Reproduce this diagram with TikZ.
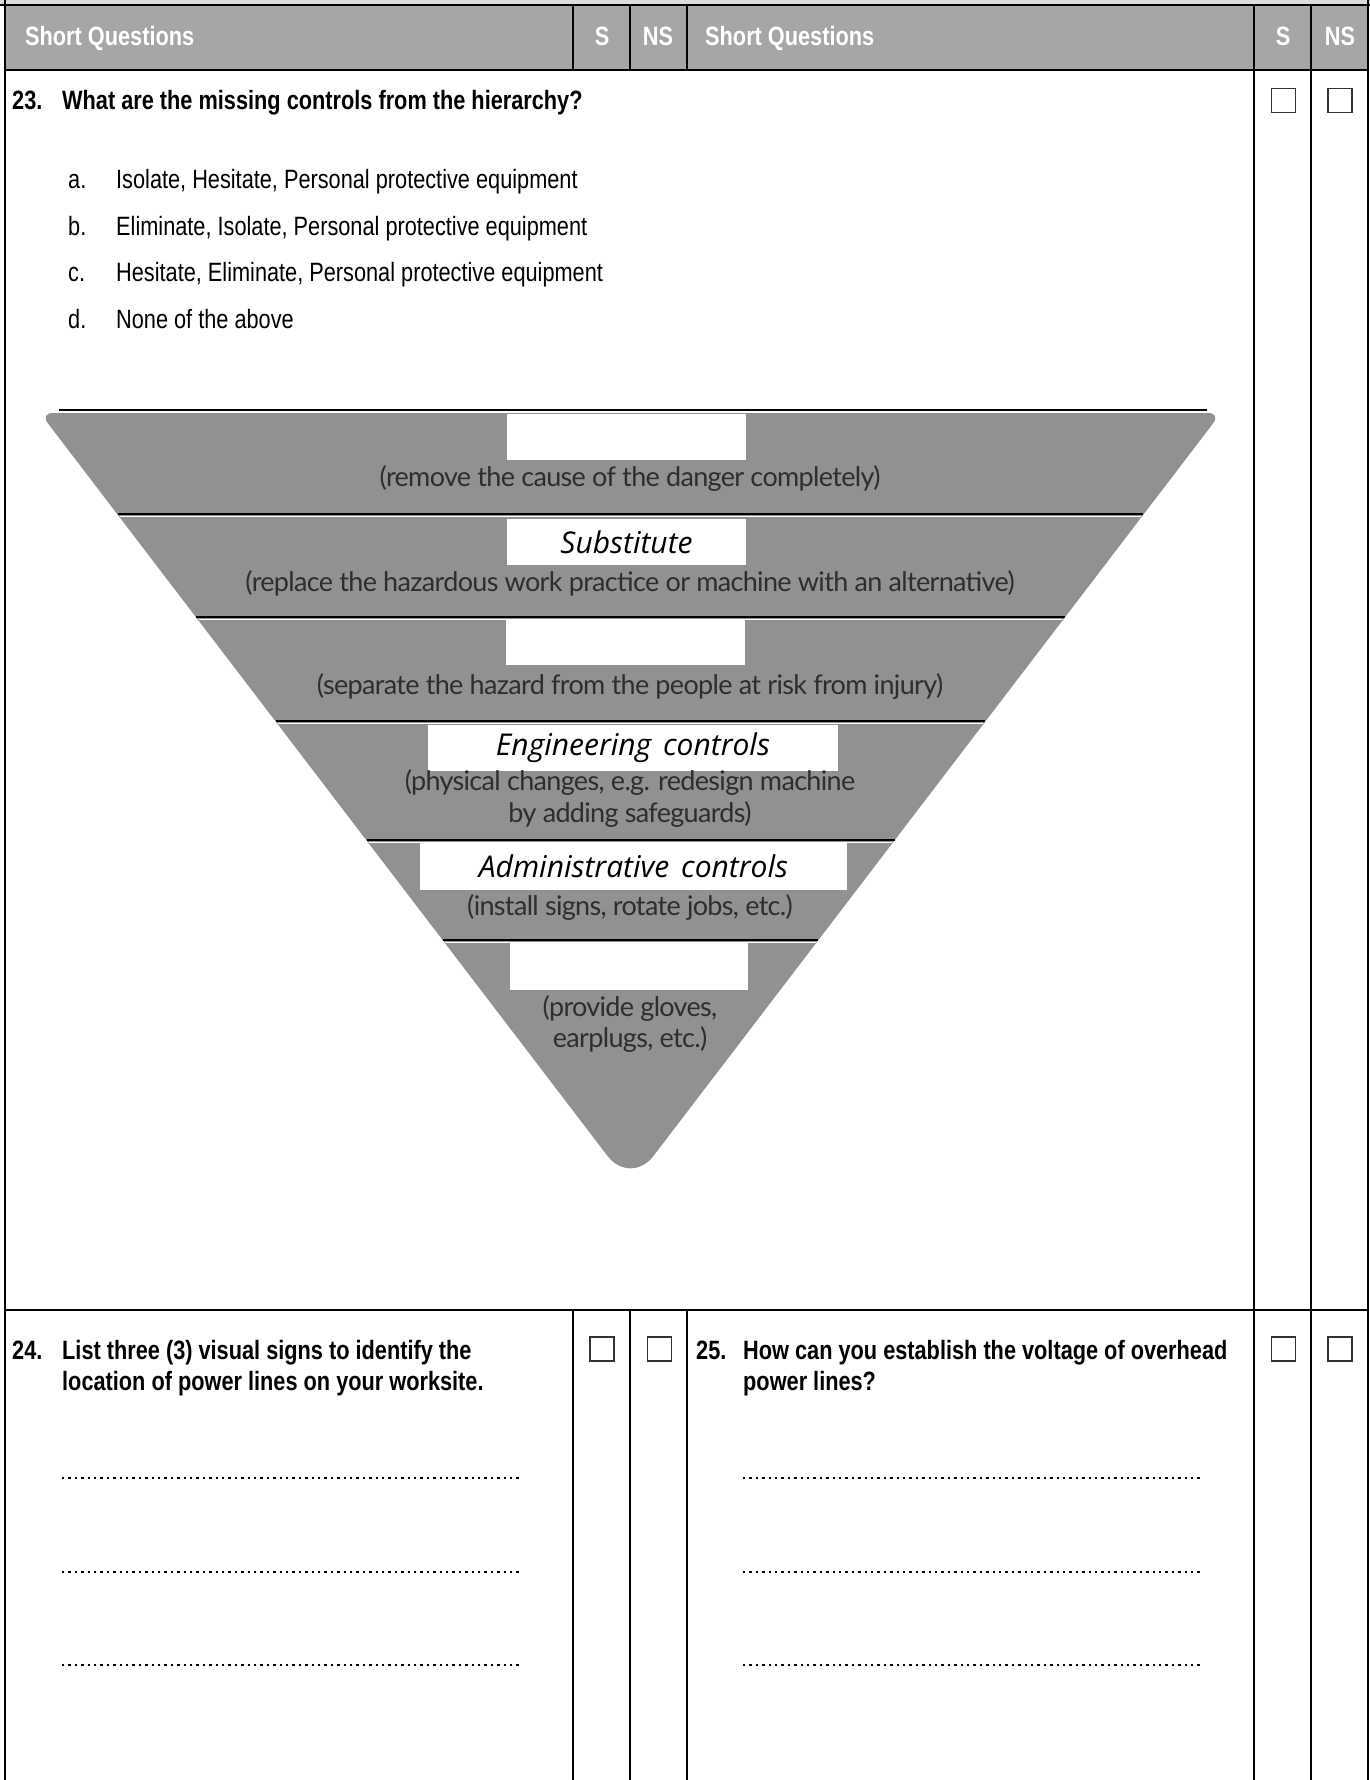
\documentclass[tikz,border=0pt]{standalone}
\usepackage{fontspec}
\setmainfont{Liberation Sans}[FakeStretch=0.82]
\newfontfamily\pyrfont{Lato}[LetterSpace=-2.5]
\newfontfamily\handfont{Open Sans}
\definecolor{headgray}{RGB}{166,166,166}
\definecolor{topgray}{RGB}{220,220,220}
\definecolor{pyrgray}{RGB}{145,145,145}
\definecolor{descgray}{RGB}{46,46,46}

\begin{document}
\begin{tikzpicture}[x=1pt, y=-1pt]
\tikzstyle{frame} = [line width=2.5pt, draw=black]
\tikzstyle{hd} = [text=white, font=\fontsize{26.5}{31}\selectfont\bfseries, inner sep=0pt]
\tikzstyle{q} = [font=\fontsize{26.5}{31}\selectfont\bfseries, anchor=base west, inner sep=0pt]
\tikzstyle{opt} = [font=\fontsize{26.5}{31}\selectfont, anchor=base west, inner sep=0pt]
\tikzstyle{tick} = [draw=black!80, line width=1.8pt, minimum size=24pt, inner sep=0pt]
\tikzstyle{lab} = [fill=white, inner sep=0pt, font=\fontsize{30}{32}\selectfont\handfont\itshape]
\tikzstyle{desc} = [text=descgray, font=\fontsize{27}{30}\selectfont\pyrfont, anchor=base, inner sep=0pt]
\tikzstyle{band} = [line width=2pt, draw=black]
\tikzstyle{blank} = [line width=2.4pt, dash pattern=on 2.4pt off 4pt]

\useasboundingbox (0,0) rectangle (1370,1780);

% header row
\fill[topgray] (0,0) rectangle (1370,5);
\fill[headgray] (5,5) rectangle (1368,70);
\node[hd, anchor=base west] (sq1) at (25,45) {Short Questions};
\node[hd, anchor=base] (s1) at (602,45) {S};
\node[hd, anchor=base] (ns1) at (658,45) {NS};
\node[hd, anchor=base west] (sq2) at (705,45) {Short Questions};
\node[hd, anchor=base] (s2) at (1283,45) {S};
\node[hd, anchor=base] (ns2) at (1340,45) {NS};

% grid
\draw[frame] (0,5) -- (1370,5);
\draw[frame] (5,70) -- (1368,70);
\draw[frame] (5,1310) -- (1368,1310);
\draw[frame] (5,0) -- (5,1780);
\draw[frame] (1368,0) -- (1368,1780);
\draw[frame] (1254,5) -- (1254,1780);
\draw[frame] (1311,5) -- (1311,1780);
\foreach \x in {573,630,687} {
  \draw[frame] (\x,5) -- (\x,70);
  \draw[frame] (\x,1310) -- (\x,1780);
}

% question 23
\node[q] (n23) at (12,109) {23.};
\node[q] (q23) at (62,109) {What are the missing controls from the hierarchy?};
\node[tick] (t23s) at (1283.5,100.5) {};
\node[tick] (t23n) at (1340,100.5) {};

\node[opt] (la) at (68,188) {a.};
\node[opt] (oa) at (116,188) {Isolate, Hesitate, Personal protective equipment};
\node[opt] (lb) at (68,235) {b.};
\node[opt] (ob) at (116,235) {Eliminate, Isolate, Personal protective equipment};
\node[opt] (lc) at (68,281) {c.};
\node[opt] (oc) at (116,281) {Hesitate, Eliminate, Personal protective equipment};
\node[opt] (ld) at (68,328) {d.};
\node[opt] (od) at (116,328) {None of the above};

% hierarchy of controls
\draw[band] (59,410) -- (1207,410);
\fill[pyrgray] (630.5,1186) [rounded corners=13pt] -- (40,413) -- (1221,413)
  [rounded corners=38pt] -- cycle;
\foreach \y in {514,617,721,840,940} {
  \draw[band] ({630.5-(1186-\y)*0.763},\y) -- ({630.5+(1186-\y)*0.763},\y);
  \draw[white, line width=1pt] ({630.5-(1186-\y-3)*0.763},\y+2.5) -- ({630.5+(1186-\y-3)*0.763},\y+2.5);
}

\node[lab, minimum width=239pt, minimum height=46pt] (l1) at (626.5,437) {};
\node[lab, minimum width=239pt, minimum height=46pt] (l2) at (626.5,542) {Substitute};
\node[lab, minimum width=239pt, minimum height=45pt] (l3) at (625.5,642.5) {};
\node[lab, minimum width=410pt, minimum height=46pt] (l4) at (633,748) {Engineering\hspace{4pt} controls};
\node[lab, minimum width=427pt, minimum height=47pt] (l5) at (633.5,866.5) {Administrative\hspace{4pt} controls};
\node[lab, minimum width=238pt, minimum height=47pt] (l6) at (629,966.5) {};

\node[desc] (d1) at (630,486) {(remove the cause of the danger completely)};
\node[desc] (d2) at (630,591) {(replace the hazardous work practice or machine with an alternative)};
\node[desc] (d3) at (630,694) {(separate the hazard from the people at risk from injury)};
\node[desc] (d4a) at (630,790) {(physical changes, e.g. redesign machine};
\node[desc] (d4b) at (630,822) {by adding safeguards)};
\node[desc] (d5) at (630,915) {(install signs, rotate jobs, etc.)};
\node[desc] (d6a) at (630,1016) {(provide gloves,};
\node[desc] (d6b) at (630,1047) {earplugs, etc.)};

% question 24
\node[q] (n24) at (12,1359) {24.};
\node[q] (q24a) at (62,1359) {List three (3) visual signs to identify the};
\node[q] (q24b) at (62,1390) {location of power lines on your worksite.};
\node[tick] (t24s) at (602,1349) {};
\node[tick] (t24n) at (659.5,1349) {};
\foreach \y in {1478,1572,1665}
  \draw[blank] (62,\y) -- (520,\y);

% question 25
\node[q] (n25) at (696,1359) {25.};
\node[q] (q25a) at (743,1359) {How can you establish the voltage of overhead};
\node[q] (q25b) at (743,1390) {power lines?};
\node[tick] (t25s) at (1283.5,1349) {};
\node[tick] (t25n) at (1340,1349) {};
\foreach \y in {1478,1572,1665}
  \draw[blank] (743,\y) -- (1200,\y);
\end{tikzpicture}
\end{document}
